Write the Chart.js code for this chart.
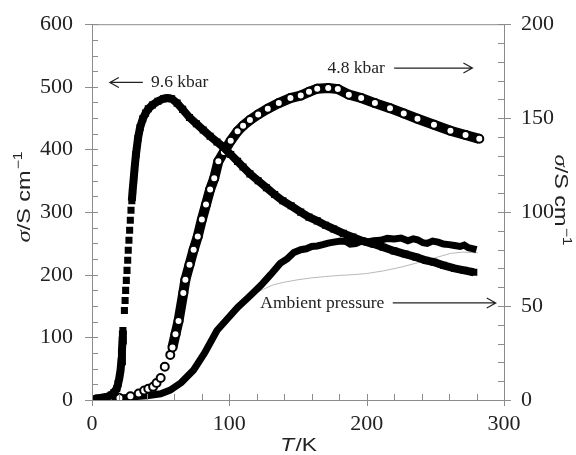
<!DOCTYPE html>
<html>
<head>
<meta charset="utf-8">
<script src="https://cdn.jsdelivr.net/npm/chart.js@4.4.1/dist/chart.umd.min.js"></script>
<style>
	body { margin: 0; background: #fff; }
	#wrap { width: 576px; height: 455px; }
</style>
</head>
<body>
<div id="wrap"><canvas id="chart" width="576" height="455"></canvas></div>
<script>
// 9.6 kbar, left axis (S cm-1)
var t96 = [2, 5, 8, 11, 14, 16, 18, 19, 20, 20.8, 21.4, 21.8, 22.2, 22.5,
	23.6, 24.1, 24.5, 25, 25.5, 26, 26.4, 26.9, 27.4, 27.9, 28.4, 29,
	29.6, 30.3, 31, 32, 33.5, 35, 37, 39, 41, 44, 48, 52, 55, 58, 62, 66, 71, 76, 81, 86, 91, 96,
	101, 106, 110, 115, 121, 127, 133, 139, 145, 152, 158, 164, 170, 176, 183, 190, 197, 205,
	212, 220, 228, 236, 243, 249, 256, 264, 271, 278];
var s96 = [2, 3, 4, 5, 8, 12, 18, 26, 36, 48, 62, 78, 95, 111,
	143, 159, 175, 191, 207, 223, 239, 255, 271, 287, 303, 318,
	335, 352, 370, 392, 418, 435, 449, 458, 465, 471, 477, 481, 482, 481, 474, 464, 451, 441, 431, 421, 412, 403,
	392, 381, 372, 361, 350, 339, 328, 318, 310, 300, 292, 286, 279, 273, 266, 260, 254, 249,
	244, 238, 233, 228, 223, 220, 215, 210, 207, 204];

// 4.8 kbar, right axis (S cm-1)
var t48 = [3, 8, 12, 20, 28, 34, 38, 41, 44.5, 47, 50, 53, 57, 58.6, 60.8, 63, 66.5, 68, 71, 74, 77, 80,
	83, 86, 89, 92, 96, 101, 106, 110, 115, 121, 128, 136, 144.5, 152, 158, 164, 172, 179, 187,
	196, 206, 217, 227, 237, 249, 261, 272, 282];
var s48 = [0, 0.3, 0.5, 1, 2, 3.5, 5, 6, 7, 9, 11.7, 17.7, 24, 28, 35, 42, 57, 64, 72, 80, 87, 96,
	104, 112, 118, 127, 132, 138, 143, 146, 149, 152, 155, 158, 160.7, 162, 164, 165.7, 166, 165.5, 162.5,
	160.7, 158, 155.3, 152.5, 149.7, 146.5, 143.3, 141, 139];

// ambient pressure, right axis (S cm-1)
var tAmb = [0, 10, 20, 30, 40, 50, 57, 65, 74, 82, 91, 98, 106, 114, 123, 130, 137, 142, 147, 152, 156, 160,
	164, 168, 172, 176, 181, 185, 188, 192, 196, 200, 205, 210, 215, 220, 225, 230, 234, 237, 241, 244,
	248, 252, 256, 260, 264, 268, 271, 274, 277, 280];
var sAmb = [0.3, 0.7, 1, 1.7, 2.3, 3.3, 5.3, 9.3, 16, 25, 37, 42.7, 49.3, 54.7, 61, 66.7, 72.7, 75, 78.5, 80, 80.5, 81.7,
	82, 82.7, 83.5, 84, 84.6, 84.3, 83, 83.3, 84.5, 84, 84.8, 85, 86, 85.7, 86.2, 84.7, 85.8, 85.3, 83.7, 83.3,
	84.6, 84, 83, 82.7, 82.2, 81.7, 82.4, 81, 80.6, 80];

// thin grey trace, right axis (S cm-1)
var tGrey = [110, 118, 125, 132, 140, 150, 160, 170, 180, 190, 200, 212, 225, 237, 250, 261, 270, 281];
var sGrey = [53.3, 56.7, 59, 61.3, 62.7, 64, 65, 65.7, 66.3, 66.7, 67.3, 68.7, 70.7, 73, 75.7, 78, 78.7, 78.3];

var xTicks = [0, 100, 200, 300];
var leftTicks = [0, 100, 200, 300, 400, 500, 600];
var rightTicks = [0, 50, 100, 150, 200];

// text labels on the plot, in T / left-axis units
var notes = [
	{ text: '9.6 kbar', x: 43, y: 507, from: 37, to: 13 }
,	{ text: '4.8 kbar', x: 171.5, y: 530, from: 220, to: 277 }
,	{ text: 'Ambient pressure', x: 122.6, y: 155, from: 219, to: 294 }
];

function pts(xs, ys)
{
	return xs.map(function(x, i) { return { x: x, y: ys[i] }; });
}

var serif = '"Liberation Serif", "Times New Roman", serif';
var sans = '"Liberation Sans", Arial, sans-serif';
var axisGrey = '#8c8c8c';

function arrow(ctx, x0, x1, y)
{
	var d = x1 > x0 ? 1 : -1;
	ctx.beginPath();
	ctx.moveTo(x0, y);
	ctx.lineTo(x1, y);
	ctx.moveTo(x1 - d * 9, y - 5);
	ctx.lineTo(x1, y);
	ctx.lineTo(x1 - d * 9, y + 5);
	ctx.stroke();
}

var framePlugin = {
	id: 'frame',
	afterDatasetsDraw: function(chart)
	{
		var ctx = chart.ctx;
		var a = chart.chartArea;
		var sx = chart.scales.x, sy = chart.scales.y, sy2 = chart.scales.y2;
		var v, p;

		ctx.save();
		ctx.strokeStyle = axisGrey;
		ctx.lineWidth = 1;
		ctx.beginPath();
		ctx.moveTo(a.left + 0.5, a.top + 0.5);
		ctx.lineTo(a.right + 0.5, a.top + 0.5);
		ctx.moveTo(a.left + 0.5, a.top);
		ctx.lineTo(a.left + 0.5, a.bottom);
		ctx.moveTo(a.right + 0.5, a.top);
		ctx.lineTo(a.right + 0.5, a.bottom);
		ctx.moveTo(a.left, a.bottom + 0.5);
		ctx.lineTo(a.right, a.bottom + 0.5);

		for (v = 0; v <= 300; v += 20)
		{
			p = Math.round(sx.getPixelForValue(v)) + 0.5;
			ctx.moveTo(p, a.bottom - 6);
			ctx.lineTo(p, a.bottom + (v % 100 === 0 ? 6 : 0));
		}
		for (v = 0; v <= 600; v += 25)
		{
			p = Math.round(sy.getPixelForValue(v)) + 0.5;
			ctx.moveTo(a.left - (v % 100 === 0 ? 7 : 0), p);
			ctx.lineTo(a.left + 6, p);
		}
		for (v = 0; v <= 200; v += 10)
		{
			p = Math.round(sy2.getPixelForValue(v)) + 0.5;
			ctx.moveTo(a.right - 6, p);
			ctx.lineTo(a.right + (v % 50 === 0 ? 7 : 0), p);
		}
		ctx.stroke();

		// notes with arrows
		ctx.fillStyle = '#222';
		ctx.strokeStyle = '#222';
		ctx.lineWidth = 1.2;
		ctx.font = '17.5px ' + serif;
		ctx.textBaseline = 'middle';
		notes.forEach(function(n)
		{
			var y = sy.getPixelForValue(n.y);
			ctx.fillText(n.text, sx.getPixelForValue(n.x), y);
			arrow(ctx, sx.getPixelForValue(n.from), sx.getPixelForValue(n.to), y);
		});

		// axis titles (the original lettering is wide, hence the horizontal stretch)
		ctx.fillStyle = '#222';
		ctx.textBaseline = 'alphabetic';
		ctx.textAlign = 'left';
		ctx.save();
		ctx.translate((a.left + a.right) / 2, 451);
		ctx.scale(1.2, 1);
		ctx.font = '19px ' + sans;
		var wT = ctx.measureText('T').width;
		var wK = ctx.measureText('/K').width;
		var x0 = -(wT + wK) / 2;
		ctx.font = 'italic 19px ' + sans;
		ctx.fillText('T', x0, 0);
		ctx.font = '19px ' + sans;
		ctx.fillText('/K', x0 + wT + 1, 0);
		ctx.restore();

		function sigma(cx, cy, rot)
		{
			ctx.save();
			ctx.translate(cx, cy);
			ctx.rotate(rot);
			ctx.scale(1.3, 1);
			ctx.font = 'italic 19px ' + serif;
			var w1 = ctx.measureText('σ').width;
			ctx.font = '18px ' + sans;
			var w2 = ctx.measureText('/S cm').width;
			ctx.font = '12px ' + sans;
			var w3 = ctx.measureText('−1').width;
			var x = -(w1 + w2 + w3 + 1) / 2;
			ctx.font = 'italic 19px ' + serif;
			ctx.fillText('σ', x, 7);
			ctx.font = '18px ' + sans;
			ctx.fillText('/S cm', x + w1, 7);
			ctx.font = '12px ' + sans;
			ctx.fillText('−1', x + w1 + w2 + 1, -1);
			ctx.restore();
		}
		sigma(23, 197, -Math.PI / 2);
		sigma(562, 200, Math.PI / 2);
		ctx.restore();
	}
};

new Chart(
	document.getElementById('chart')
,	{
		type: 'scatter'
	,	data:
		{
			datasets:
			[
				{
					label: '9.6 kbar'
				,	data: pts(t96, s96)
				,	yAxisID: 'y'
				,	order: 1
				,	showLine: true
				,	borderColor: '#000'
				,	borderWidth: 8
				,	segment:
					{
						borderColor: function(c) { return (c.p0.parsed.x >= 22.5 && c.p1.parsed.x <= 29) ? 'transparent' : '#000'; }
					}
				,	pointStyle: 'rect'
				,	pointRadius: 5
				,	backgroundColor: '#000'
				,	pointBorderWidth: 0
				}
			,	{
					label: '4.8 kbar'
				,	data: pts(t48, s48)
				,	yAxisID: 'y2'
				,	order: 2
				,	showLine: true
				,	borderColor: '#000'
				,	borderWidth: 10
				,	segment:
					{
						borderColor: function(c) { return c.p1.parsed.x <= 58.6 ? 'transparent' : '#000'; }
					}
				,	pointStyle: 'circle'
				,	pointRadius: 4
				,	pointBackgroundColor: '#fff'
				,	pointBorderColor: '#000'
				,	pointBorderWidth: 2
				}
			,	{
					label: 'Ambient pressure'
				,	data: pts(tAmb, sAmb)
				,	yAxisID: 'y2'
				,	order: 3
				,	showLine: true
				,	borderColor: '#000'
				,	borderWidth: 7
				,	pointRadius: 0
				}
			,	{
					label: 'trace'
				,	data: pts(tGrey, sGrey)
				,	yAxisID: 'y2'
				,	order: 4
				,	showLine: true
				,	borderColor: '#b8b8b8'
				,	borderWidth: 1
				,	pointRadius: 0
				}
			]
		}
	,	options:
		{
			responsive: false
		,	animation: false
		,	layout: { padding: { top: 23, left: 0, right: 0, bottom: 0 } }
		,	plugins: { legend: { display: false }, tooltip: { enabled: false } }
		,	scales:
			{
				x:
				{
					type: 'linear'
				,	min: 0
				,	max: 300
				,	grid: { display: false }
				,	border: { display: false }
				,	afterBuildTicks: function(s) { s.ticks = xTicks.map(function(v) { return { value: v }; }); }
				,	afterFit: function(s) { s.height = 55; }
				,	ticks: { font: { family: serif, size: 22 }, color: '#222', padding: 3, maxRotation: 0 }
				}
			,	y:
				{
					position: 'left'
				,	min: 0
				,	max: 600
				,	grid: { display: false }
				,	border: { display: false }
				,	afterBuildTicks: function(s) { s.ticks = leftTicks.map(function(v) { return { value: v }; }); }
				,	afterFit: function(s) { s.width = 92; }
				,	ticks: { font: { family: serif, size: 22 }, color: '#222', padding: 11 }
				}
			,	y2:
				{
					position: 'right'
				,	min: 0
				,	max: 200
				,	grid: { display: false }
				,	border: { display: false }
				,	afterBuildTicks: function(s) { s.ticks = rightTicks.map(function(v) { return { value: v }; }); }
				,	afterFit: function(s) { s.width = 72; }
				,	ticks: { font: { family: serif, size: 22 }, color: '#222', padding: 9 }
				}
			}
		}
	,	plugins: [framePlugin]
	}
);
</script>
</body>
</html>
